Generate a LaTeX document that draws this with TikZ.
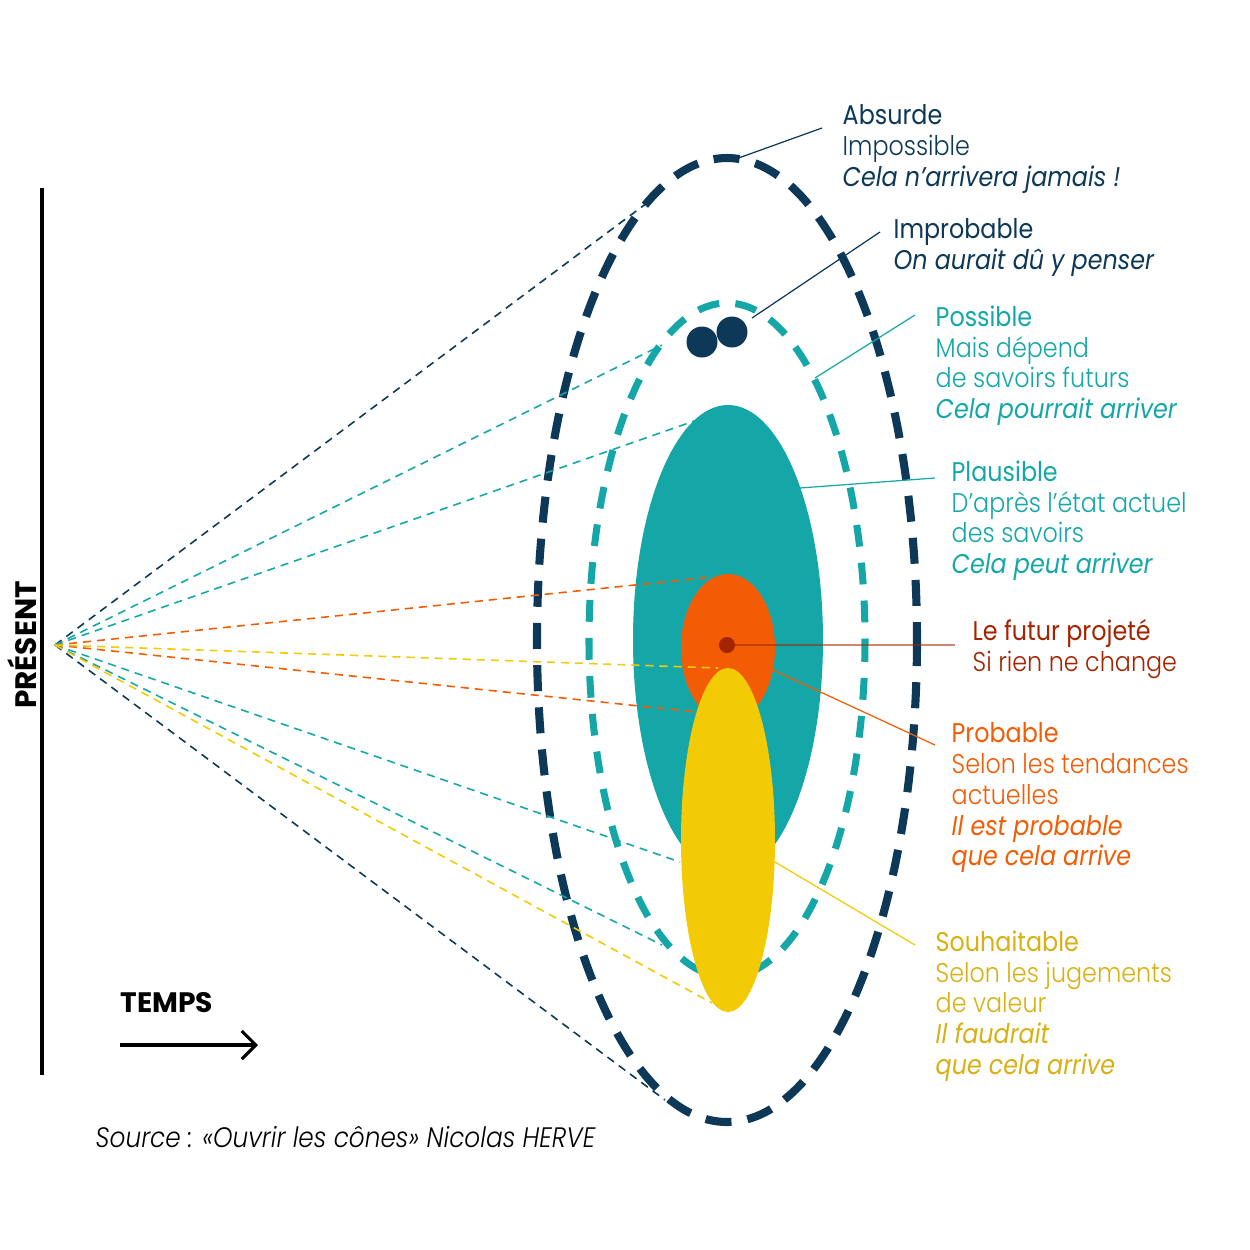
\documentclass[tikz,border=0pt]{standalone}
\usepackage{fontspec}
\IfFontExistsTF{Poppins Light}
  {\setmainfont{Poppins Light}[FakeStretch=0.88]}
  {\setmainfont{Poppins}[FakeStretch=0.88]}
\newfontfamily\medfont{Poppins}[FakeStretch=0.88]
\newfontfamily\heavyfont{Poppins}
\usetikzlibrary{positioning,arrows.meta}

\definecolor{navy}{HTML}{0D3858}
\definecolor{teal}{HTML}{15A7A7}
\definecolor{orange}{HTML}{F25C05}
\definecolor{yellow}{HTML}{F2CA05}
\definecolor{yellowtext}{HTML}{D8B014}
\definecolor{darkred}{HTML}{A32400}

\newcommand{\ttl}[1]{{\medfont #1}}
\newcommand{\itl}[1]{{\medfont\itshape #1}}

\tikzset{
  legend/.style={anchor=north west, align=left, inner sep=0pt,
    font=\fontsize{7.7}{8.75}\selectfont},
  ray/.style={dashed, dash pattern=on 2.3pt off 1.7pt, line width=0.45pt},
  ring/.style={line width=2.3pt, dash pattern=on 7.4pt off 4.6pt},
  leader/.style={line width=0.35pt}
}

\begin{document}
\begin{tikzpicture}[x=0.01cm, y=-0.01cm]
\useasboundingbox (0,0) rectangle (1250,1250);
% Rings
\draw[ring, navy] (727,640) ellipse [x radius=190, y radius=482];
\draw[ring, teal, line width=2pt, dash pattern=on 6.2pt off 4.6pt] (727,640) ellipse [x radius=138, y radius=337];
% Zones
\fill[teal] (728,640) ellipse [x radius=95, y radius=235];
\fill[orange] (728,648) ellipse [x radius=47, y radius=74];
\fill[yellow] (728,840) ellipse [x radius=47, y radius=172];
% Points
\coordinate (present) at (55,645);
\coordinate (nUp) at (655,197);
\coordinate (tUp) at (662,345);
\coordinate (pUp) at (697,420);
\coordinate (oUp) at (712,577);
\coordinate (yUp) at (718,668);
\coordinate (oLow) at (697,712);
\coordinate (pLow) at (680,862);
\coordinate (tLow) at (662,945);
\coordinate (yLow) at (712,1003);
\coordinate (nLow) at (665,1100);
% Rays
\draw[ray, navy] (present) -- (nUp);
\draw[ray, navy] (present) -- (nLow);
\draw[ray, teal] (present) -- (tUp);
\draw[ray, teal] (present) -- (pUp);
\draw[ray, teal] (present) -- (pLow);
\draw[ray, teal] (present) -- (tLow);
\draw[ray, orange] (present) -- (oUp);
\draw[ray, orange] (present) -- (oLow);
\draw[ray, yellow] (present) -- (yUp);
\draw[ray, yellow] (present) -- (yLow);
% Dots
\fill[navy] (702,342) circle [radius=15.5];
\fill[navy] (732,332) circle [radius=15.5];
\fill[darkred] (727,645) circle [radius=8];
% Labels
\node[legend, text=navy] (absurde) at (842,104)
  {\ttl{Absurde}\\Impossible\\\itl{Cela n’arrivera jamais !}};
\node[legend, text=navy] (improbable) at (893,218)
  {\ttl{Improbable}\\\itl{On aurait dû y penser}};
\node[legend, text=teal] (possible) at (935,305)
  {\ttl{Possible}\\Mais dépend\\de savoirs futurs\\\itl{Cela pourrait arriver}};
\node[legend, text=teal] (plausible) at (951,460)
  {\ttl{Plausible}\\D’après l’état actuel\\des savoirs\\\itl{Cela peut arriver}};
\node[legend, text=darkred] (futur) at (972,619)
  {\ttl{Le futur projeté}\\Si rien ne change};
\node[legend, text=orange] (probable) at (951,722)
  {\ttl{Probable}\\Selon les tendances\\actuelles\\\itl{Il est probable}\\\itl{que cela arrive}};
\node[legend, text=yellowtext] (souhaitable) at (935,930)
  {\ttl{Souhaitable}\\Selon les jugements\\de valeur\\\itl{Il faudrait}\\\itl{que cela arrive}};
% Leaders
\coordinate (aFrom) at (733,160);
\coordinate (aTo) at (822,128);
\coordinate (iFrom) at (752,318);
\coordinate (iTo) at (880,232);
\coordinate (sFrom) at (815,378);
\coordinate (sTo) at (915,315);
\coordinate (lFrom) at (800,488);
\coordinate (lTo) at (935,478);
\coordinate (fTo) at (955,645);
\coordinate (rFrom) at (773,670);
\coordinate (rTo) at (935,745);
\coordinate (hFrom) at (775,862);
\coordinate (hTo) at (915,945);
\draw[leader, navy] (aFrom) -- (aTo);
\draw[leader, navy] (iFrom) -- (iTo);
\draw[leader, teal] (sFrom) -- (sTo);
\draw[leader, teal] (lFrom) -- (lTo);
\draw[leader, darkred, line width=0.6pt, opacity=0.55] (727,645) -- (fTo);
\draw[leader, orange] (rFrom) -- (rTo);
\draw[leader, yellow] (hFrom) -- (hTo);
% Axis
\coordinate (top) at (42,188);
\coordinate (bottom) at (42,1075);
\draw[line width=0.9pt] (top) -- (bottom);
\node[rotate=90, font=\heavyfont\bfseries\fontsize{8.4}{10}\selectfont, inner sep=0pt] (label) at (22,645) {PRÉSENT};
\node[anchor=west, font=\heavyfont\bfseries\fontsize{8}{10}\selectfont, inner sep=0pt] (temps) at (120,1003) {TEMPS};
\coordinate (tStart) at (120,1045);
\coordinate (tEnd) at (258,1045);
\draw[line width=0.9pt, -{Straight Barb[length=4pt, width=8pt, line width=0.9pt]}] (tStart) -- (tEnd);
\node[anchor=west, font=\itshape\fontsize{8}{10}\selectfont, inner sep=0pt] (source) at (95,1137)
  {Source : «Ouvrir les cônes» Nicolas HERVE};
\end{tikzpicture}
\end{document}
